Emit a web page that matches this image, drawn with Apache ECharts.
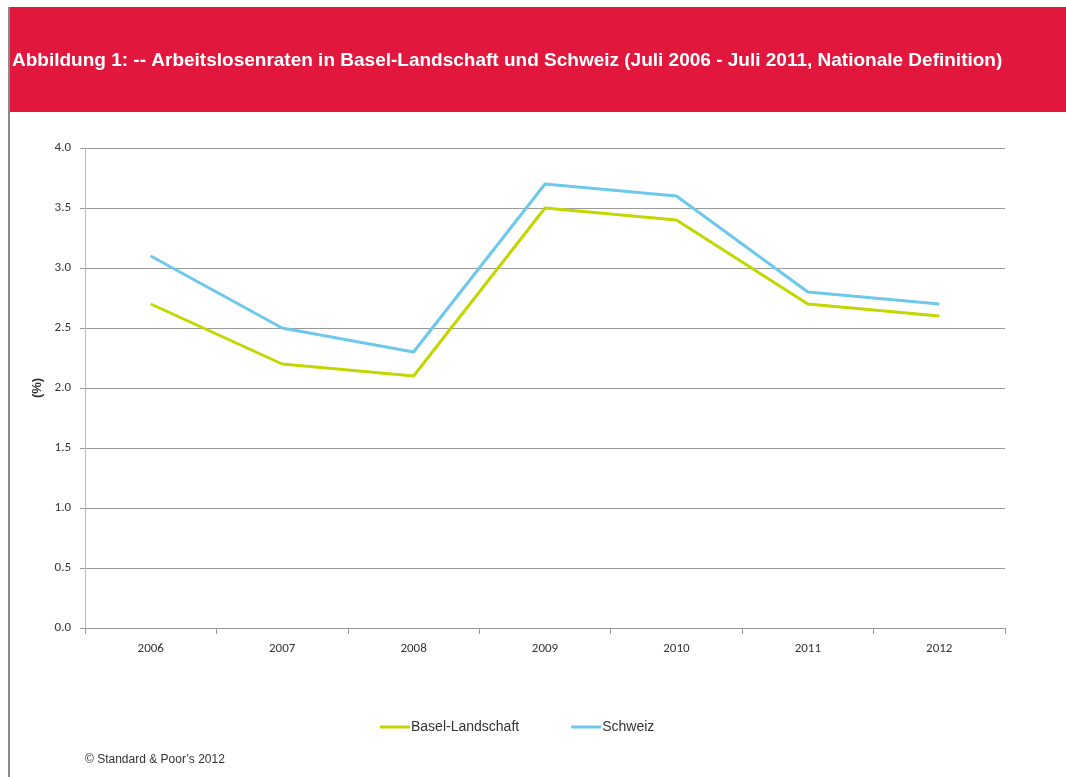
<!DOCTYPE html>
<html><head><meta charset="utf-8">
<script src="https://cdn.jsdelivr.net/npm/echarts@6/dist/echarts.min.js"></script>
<style>html,body{margin:0;padding:0;background:#fff}#c{width:1066px;height:777px}</style>
</head><body><div id="c"></div>
<script>
const years = ['2006','2007','2008','2009','2010','2011','2012'];
const baselLandschaft = [2.7, 2.2, 2.1, 3.5, 3.4, 2.7, 2.6];
const schweiz = [3.1, 2.5, 2.3, 3.7, 3.6, 2.8, 2.7];
const seriesNames = ['Basel-Landschaft', 'Schweiz'];
const titleText = 'Abbildung 1: -- Arbeitslosenraten in Basel-Landschaft und Schweiz (Juli 2006 - Juli 2011, Nationale Definition)';
const footerText = '© Standard & Poor\u2019s 2012';

const chart = echarts.init(document.getElementById('c'), null, {renderer:'canvas'});
chart.setOption({
  animation:false,
  backgroundColor:'#fff',
  graphic:[
    {type:'rect', shape:{x:9, y:7, width:1057, height:105}, style:{fill:'#e2173d'}, z:0},
    {type:'rect', shape:{x:8, y:7, width:2, height:770}, style:{fill:'#8a8a8a'}, z:1},
    {type:'text', left:12, top:51, style:{text:titleText, fill:'#fff', font:'bold 19px "Liberation Sans", Arial, sans-serif'}, z:2},
    {type:'text', left:85, top:754, style:{text:footerText, fill:'#333', font:'12px "Liberation Sans", Arial, sans-serif'}}
  ],
  grid:{left:85, right:61, top:148, bottom:149, containLabel:false},
  legend:{
    data:seriesNames, bottom:38, left:375, itemWidth:30, itemHeight:3, itemGap:52,
    icon:'rect',
    textStyle:{color:'#333', fontSize:14, fontFamily:'"Liberation Sans", Arial, sans-serif', padding:[0,0,0,-4]}
  },
  xAxis:{
    type:'category', data:years, boundaryGap:true,
    axisLine:{lineStyle:{color:'#999', width:1}},
    axisTick:{show:true, length:6, lineStyle:{color:'#999'}},
    axisLabel:{color:'#333', fontSize:13, margin:14, fontFamily:'Carlito, "Liberation Sans", sans-serif'}
  },
  yAxis:{
    type:'value', min:0, max:4, interval:0.5,
    name:'(%)', nameLocation:'middle', nameGap:40, nameRotate:90,
    nameTextStyle:{color:'#333', fontSize:13, fontWeight:'bold', fontFamily:'"Liberation Sans", Arial, sans-serif'},
    axisLine:{show:true, lineStyle:{color:'#bbb'}},
    axisTick:{show:true, length:5, lineStyle:{color:'#999'}},
    axisLabel:{color:'#333', fontSize:13, margin:14, formatter:v=>v.toFixed(1), fontFamily:'Carlito, "Liberation Sans", sans-serif'},
    splitLine:{lineStyle:{color:'#999', width:1}}
  },
  series:[
    {name:seriesNames[0], type:'line', data:baselLandschaft, symbol:'none', lineStyle:{color:'#c4d600', width:3}, itemStyle:{color:'#c4d600'}},
    {name:seriesNames[1], type:'line', data:schweiz, symbol:'none', lineStyle:{color:'#6ec8ec', width:3}, itemStyle:{color:'#6ec8ec'}}
  ]
});
</script></body></html>
